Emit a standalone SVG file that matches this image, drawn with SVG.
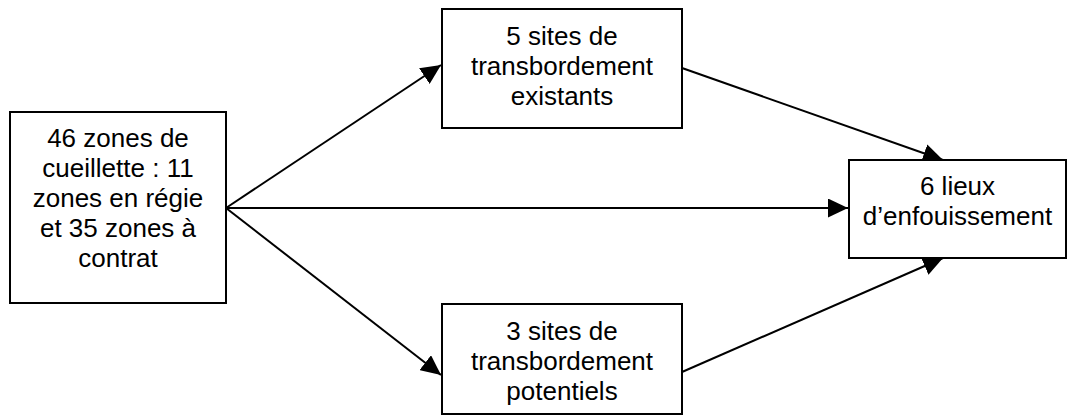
<svg xmlns="http://www.w3.org/2000/svg" width="1076" height="417" viewBox="0 0 1076 417">
  <style>
    .box { fill: #ffffff; stroke: #000000; stroke-width: 2; }
    .label { font-family: "Liberation Sans", Arial, sans-serif; font-size: 26px; fill: #000000; text-anchor: middle; }
    .edge { stroke: #000000; stroke-width: 2; fill: none; marker-end: url(#arrow); }
  </style>
  <defs>
    <marker id="arrow" viewBox="0 0 20 19" refX="20" refY="9.5" markerWidth="20" markerHeight="19" markerUnits="userSpaceOnUse" orient="auto">
      <path d="M0,0 L20,9.5 L0,19 Z" fill="#000000"/>
    </marker>
  </defs>

  <g id="connectors">
    <line class="edge" x1="226" y1="208" x2="441" y2="65"/>
    <line class="edge" x1="226" y1="208" x2="848" y2="208"/>
    <line class="edge" x1="226" y1="208" x2="441" y2="375"/>
    <line class="edge" x1="682" y1="68" x2="943" y2="160"/>
    <line class="edge" x1="682" y1="372" x2="943" y2="258"/>
  </g>

  <g id="collection-zones">
    <rect class="box" x="10" y="112" width="216" height="191"/>
    <text class="label" x="118" y="147">46 zones de</text>
    <text class="label" x="118" y="177">cueillette : 11</text>
    <text class="label" x="118" y="207">zones en régie</text>
    <text class="label" x="118" y="237">et 35 zones à</text>
    <text class="label" x="118" y="267">contrat</text>
  </g>

  <g id="existing-transfer-sites">
    <rect class="box" x="442" y="9" width="240" height="119"/>
    <text class="label" x="562" y="45">5 sites de</text>
    <text class="label" x="562" y="75">transbordement</text>
    <text class="label" x="562" y="105">existants</text>
  </g>

  <g id="landfill-sites">
    <rect class="box" x="849" y="160" width="217" height="98"/>
    <text class="label" x="957.5" y="195">6 lieux</text>
    <text class="label" x="957.5" y="225">d’enfouissement</text>
  </g>

  <g id="potential-transfer-sites">
    <rect class="box" x="442" y="304" width="240" height="110"/>
    <text class="label" x="562" y="340">3 sites de</text>
    <text class="label" x="562" y="370">transbordement</text>
    <text class="label" x="562" y="400">potentiels</text>
  </g>
</svg>
